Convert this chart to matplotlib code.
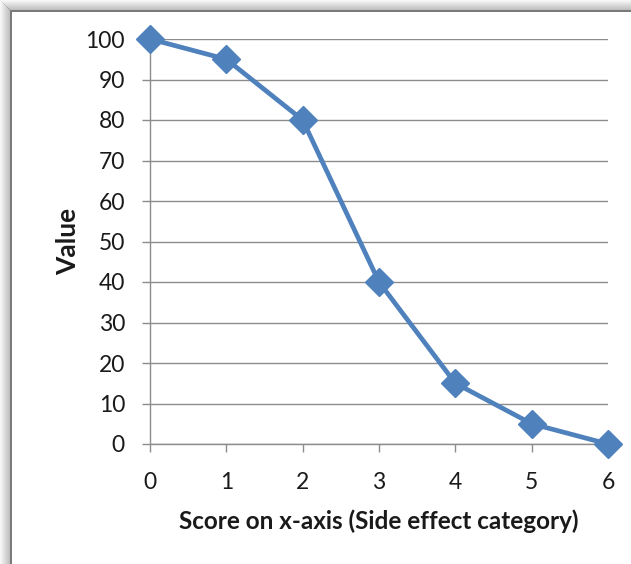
import matplotlib
matplotlib.use("Agg")
import matplotlib.pyplot as plt
from matplotlib.patches import Rectangle
from matplotlib.ticker import MultipleLocator

plt.rcParams['font.family'] = ['Lato', 'DejaVu Sans']

scores = [0, 1, 2, 3, 4, 5, 6]
values = [100, 95, 80, 40, 15, 5, 0]
x_label = "Score on x-axis (Side effect category)"
y_label = "Value"

W, H = 631, 564
fig = plt.figure(figsize=(W / 100, H / 100), dpi=100)
fig.patch.set_facecolor("white")

# soft shadow frame along the top and left edges
for i in range(10):
    a = 0.05 + 0.045 * i
    fig.add_artist(Rectangle((i / W, 0), 1 / W, 1 - i / H, transform=fig.transFigure,
                             facecolor=(0.45, 0.45, 0.45), alpha=a, edgecolor="none"))
    fig.add_artist(Rectangle((i / W, 1 - (i + 1) / H), 1, 1 / H, transform=fig.transFigure,
                             facecolor=(0.45, 0.45, 0.45), alpha=a, edgecolor="none"))
fig.add_artist(Rectangle((10 / W, 0), 1.5 / W, 1 - 10 / H, transform=fig.transFigure,
                         facecolor="#7a7a7a", edgecolor="none"))
fig.add_artist(Rectangle((10 / W, 1 - 11.5 / H), 1, 1.5 / H, transform=fig.transFigure,
                         facecolor="#7a7a7a", edgecolor="none"))

ax = fig.add_axes([150 / W, 120 / H, 458 / W, 405 / H])
ax.set_facecolor("none")
ax.set_xlim(0, 6)
ax.set_ylim(0, 100)
ax.yaxis.set_major_locator(MultipleLocator(10))
ax.xaxis.set_major_locator(MultipleLocator(1))

grid_c = "#8c8c8c"
ax.grid(axis="y", color=grid_c, linewidth=1.0)
ax.set_axisbelow(True)
for s in ["top", "right"]:
    ax.spines[s].set_visible(False)
for s in ["left", "bottom"]:
    ax.spines[s].set_color(grid_c)
    ax.spines[s].set_linewidth(1.0)

ax.tick_params(axis="y", length=6, width=1.0, color=grid_c, pad=12,
               labelsize=16.5, labelcolor="#1a1a1a")
ax.tick_params(axis="x", length=6, width=1.0, color=grid_c, pad=14,
               labelsize=16.5, labelcolor="#1a1a1a")

ax.plot(scores, values, color="#4F81BD", linewidth=3.4, marker="D",
        markersize=14, markerfacecolor="#4F81BD", markeredgecolor="#4F81BD",
        clip_on=False, zorder=5)

ax.set_xlabel(x_label, fontsize=17.5, fontweight="bold", labelpad=12, color="#1a1a1a")
ax.set_ylabel(y_label, fontsize=19, fontweight="bold", labelpad=4, color="#1a1a1a")

fig.savefig("out.png", dpi=100)
